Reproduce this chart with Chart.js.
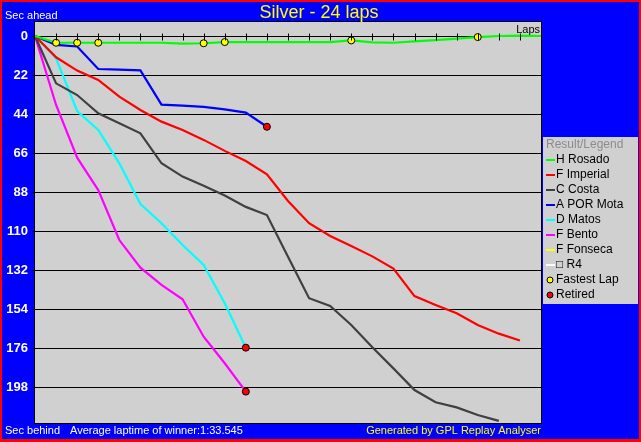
<!DOCTYPE html>
<html>
<head>
<meta charset="utf-8">
<script src="https://cdn.jsdelivr.net/npm/chart.js@4.4.0/dist/chart.umd.min.js"></script>
<style>
  html, body { margin: 0; padding: 0; background: #0000ff; }
  #wrap { width: 641px; height: 442px; }
</style>
</head>
<body>
<div id="wrap"><canvas id="lapChart" width="641" height="442"></canvas></div>
<script>
// seconds behind the winner's average pace, lap 0 .. last lap
const rosado = [0, 3.8, 3.8, 3.8, 3.8, 3.8, 3.8, 4.3, 4.1, 3.4, 3.4, 3.4, 3.4, 3.4, 3.4, 2.5, 3.6, 3.8, 3.0, 2.3, 1.5, 0.6, 0, -0.2, 0];
const imperial = [0, 12.0, 19.5, 24.8, 34.2, 41.7, 48.3, 53.0, 58.6, 64.8, 70.5, 78.0, 93.1, 105.6, 112.8, 118.5, 124.3, 131.2, 146.7, 151.7, 156.4, 163.0, 167.9, 171.8];
const costa = [0, 26.7, 33.3, 43.6, 49.2, 54.9, 71.8, 79.3, 84.5, 90.0, 96.4, 101.0, 124.5, 147.9, 152.3, 163.0, 175.6, 187.5, 199.7, 206.6, 209.5, 213.8, 217.1];
const mota = [0, 5.0, 5.9, 18.6, 19.0, 19.4, 38.7, 39.3, 40.0, 41.4, 43.2, 51.2];
const matos = [0, 12.6, 42.3, 53.0, 71.8, 94.8, 105.6, 117.9, 129.2, 150.8, 175.8];
const bento = [0, 38.9, 68.6, 86.9, 115.1, 130.7, 140.4, 148.5, 169.6, 184.6, 200.6];

const fastestLaps = [1, 2, 3, 8, 9, 15, 21];
const yTicks = [0, 22, 44, 66, 88, 110, 132, 154, 176, 198];
const totalLaps = 24;

const legendItems = [
  { label: "H Rosado", color: "#00ff00" },
  { label: "F Imperial", color: "#ff0000" },
  { label: "C Costa", color: "#404040" },
  { label: "A POR Mota", color: "#0000ff" },
  { label: "D Matos", color: "#00ffff" },
  { label: "F Bento", color: "#ff00ff" },
  { label: "F Fonseca", color: "#ffff00" },
  { label: "\u25A1 R4", color: "#ffffff" },
];

const FONT = "'Liberation Sans', Arial, sans-serif";
const plotGray = "#d0d0d0";

function pts(arr) {
  return arr.map((v, i) => ({ x: i, y: v }));
}

function lineSet(label, arr, color) {
  return {
    label: label,
    data: pts(arr),
    borderColor: color,
    borderWidth: 2.2,
    pointRadius: 0,
    tension: 0,
    fill: false,
    order: 1,
  };
}

const retired = [mota, matos, bento].map((arr) => ({ x: arr.length - 1, y: arr[arr.length - 1] }));

const frame = {
  id: "frame",
  beforeDraw(chart) {
    const { ctx, chartArea: a, width, height } = chart;
    ctx.save();
    ctx.fillStyle = "#ff0000";
    ctx.fillRect(0, 0, width, height);
    ctx.fillStyle = "#0000ff";
    ctx.fillRect(2, 2, width - 4, height - 5);
    ctx.fillStyle = plotGray;
    ctx.fillRect(a.left, a.top, a.right - a.left, a.bottom - a.top);
    ctx.restore();
  },
  afterDatasetsDraw(chart) {
    const { ctx, chartArea: a, scales } = chart;
    const x = scales.x, y = scales.y;
    ctx.save();
    // lap ticks on the zero line
    ctx.strokeStyle = "#000";
    ctx.lineWidth = 1;
    const y0 = Math.round(y.getPixelForValue(0)) + 0.5;
    for (let i = 1; i < totalLaps; i++) {
      const px = Math.round(x.getPixelForValue(i)) + 0.5;
      ctx.beginPath();
      ctx.moveTo(px, y0 - 3);
      ctx.lineTo(px, y0 + 4);
      ctx.stroke();
    }
    ctx.strokeRect(a.left - 0.5, a.top - 0.5, a.right - a.left + 1, a.bottom - a.top + 1);

    ctx.fillStyle = "#000";
    ctx.font = "11px " + FONT;
    ctx.textAlign = "right";
    ctx.textBaseline = "middle";
    ctx.fillText("Laps", a.right - 1, a.top + 8);
    ctx.restore();
  },
  afterDraw(chart) {
    const { ctx, chartArea: a } = chart;
    ctx.save();
    ctx.textBaseline = "middle";

    ctx.fillStyle = "#ffff00";
    ctx.font = "18px " + FONT;
    ctx.textAlign = "center";
    ctx.fillText("Silver - 24 laps", 319, 13);

    ctx.font = "11px " + FONT;
    ctx.textAlign = "left";
    ctx.fillStyle = "#ffffff";
    ctx.fillText("Sec ahead", 5, 16);
    ctx.fillText("Sec behind", 5, 431);
    ctx.fillText("Average laptime of winner:1:33.545", 70, 431);
    ctx.fillStyle = "#ffff00";
    ctx.textAlign = "right";
    ctx.fillText("Generated by GPL Replay Analyser", a.right, 431);

    // legend box
    const lx = 543, ly = 137;
    ctx.font = "12px " + FONT;
    ctx.fillStyle = plotGray;
    ctx.fillRect(lx, ly, 95, 167);
    ctx.textAlign = "left";
    ctx.fillStyle = "#8c8c8c";
    ctx.fillText("Result/Legend", lx + 3, ly + 8);
    legendItems.forEach((item, i) => {
      const cy = ly + 23 + i * 15;
      ctx.fillStyle = item.color;
      ctx.fillRect(lx + 3, cy - 1, 9, 2);
      ctx.fillStyle = "#000";
      ctx.fillText(item.label, lx + 13, cy);
    });
    const marks = [["Fastest Lap", "#ffff00"], ["Retired", "#ff0000"]];
    marks.forEach((m, i) => {
      const cy = ly + 23 + (legendItems.length + i) * 15;
      ctx.beginPath();
      ctx.arc(lx + 7, cy, 3, 0, Math.PI * 2);
      ctx.fillStyle = m[1];
      ctx.fill();
      ctx.strokeStyle = "#000";
      ctx.lineWidth = 1;
      ctx.stroke();
      ctx.fillStyle = "#000";
      ctx.fillText(m[0], lx + 13, cy);
    });
    ctx.restore();
  },
};

new Chart(document.getElementById("lapChart"), {
  type: "line",
  data: {
    datasets: [
      {
        label: "Fastest Lap",
        data: fastestLaps.map((l) => ({ x: l, y: rosado[l] })),
        showLine: false,
        pointRadius: 3.5,
        pointBackgroundColor: "#ffff00",
        pointBorderColor: "#000",
        pointBorderWidth: 1,
        order: 0,
      },
      {
        label: "Retired",
        data: retired,
        showLine: false,
        pointRadius: 3.5,
        pointBackgroundColor: "#ff0000",
        pointBorderColor: "#000",
        pointBorderWidth: 1,
        order: 0,
      },
      lineSet("H Rosado", rosado, "#00ff00"),
      lineSet("A POR Mota", mota, "#0000ff"),
      lineSet("F Imperial", imperial, "#ff0000"),
      lineSet("C Costa", costa, "#404040"),
      lineSet("D Matos", matos, "#00ffff"),
      lineSet("F Bento", bento, "#ff00ff"),
    ],
  },
  options: {
    responsive: false,
    animation: false,
    devicePixelRatio: 1,
    layout: { padding: { left: 0, top: 22, right: 100, bottom: 19 } },
    plugins: {
      legend: { display: false },
      title: { display: false },
      tooltip: { enabled: false },
    },
    scales: {
      x: {
        type: "linear",
        min: 0,
        max: totalLaps,
        display: false,
      },
      y: {
        type: "linear",
        reverse: true,
        min: -7.9,
        max: 218.3,
        afterBuildTicks: (scale) => {
          scale.ticks = yTicks.map((v) => ({ value: v }));
        },
        afterFit: (scale) => {
          scale.width = 35;
        },
        border: { display: false },
        grid: {
          color: "#000",
          lineWidth: 1,
          drawTicks: true,
          tickLength: 3,
          tickColor: "#000",
        },
        ticks: {
          color: "#ffffff",
          padding: 4,
          font: { family: FONT, size: 13, weight: "bold" },
        },
      },
    },
  },
  plugins: [frame],
});
</script>
</body>
</html>
